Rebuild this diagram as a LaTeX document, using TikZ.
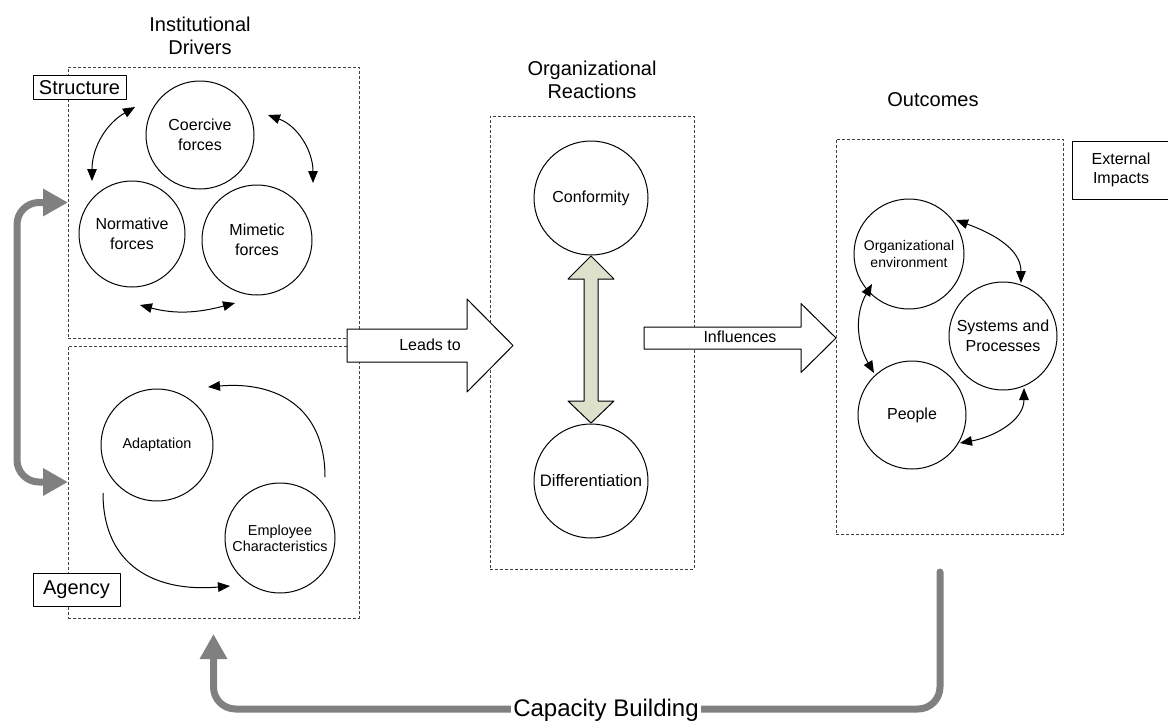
\documentclass[tikz,border=0pt]{standalone}
\usepackage{fontspec}
\setmainfont{Liberation Sans}
\usetikzlibrary{arrows.meta}
\definecolor{sage}{RGB}{221,225,204}
\definecolor{loopgray}{RGB}{128,128,128}

\begin{document}
\begin{tikzpicture}[x=0.5pt,y=0.5pt,line join=round,
  frame/.style={draw=black!75,line width=0.5pt,dash pattern=on 1.5pt off 1pt,inner sep=0pt,outer sep=0pt},
  tag/.style={draw,fill=white,line width=0.5pt,inner sep=0pt,font=\fontsize{10}{12}\selectfont},
  head/.style={align=center,font=\fontsize{10}{11.5}\selectfont},
  force/.style={circle,draw,line width=0.5pt,inner sep=0pt,align=center,font=\fontsize{8}{9.75}\selectfont},
  small/.style={font=\fontsize{7.2}{8}\selectfont},
  block/.style={draw,fill=white,line width=0.5pt},
  tip/.style={Triangle[length=6pt,width=4.8pt]},
  link/.style={line width=0.5pt,{Triangle[length=6pt,width=4.8pt]}-{Triangle[length=6pt,width=4.8pt]}},
  cycle/.style={line width=0.5pt,-{Triangle[length=6pt,width=4.8pt]}},
  feed/.style={draw=loopgray,line width=3.5pt,rounded corners=11pt}]
  \useasboundingbox (0,0) rectangle (1168,720);

  % dashed groups
  \node[frame,minimum width=145.5pt,minimum height=135.5pt] (structbox) at (213.5,517.5) {};
  \node[frame,minimum width=145.5pt,minimum height=136pt] (agencybox) at (213.5,238) {};
  \node[frame,minimum width=102pt,minimum height=226.5pt] (reactbox) at (592,377.5) {};
  \node[frame,minimum width=113.5pt,minimum height=197.5pt] (outbox) at (949.5,383.5) {};

  \node[head] (drivers) at (200,684.5) {Institutional\\Drivers};
  \node[head] (reactions) at (592,640) {Organizational\\Reactions};
  \node[head] (outcomes) at (933,620) {Outcomes};

  \node[tag,minimum width=46.5pt,minimum height=12pt] (structure) at (79.5,632.5) {Structure};
  \node[tag,minimum width=43.5pt,minimum height=16.5pt] (agency) at (76.5,130.5) {Agency};
  \node[tag,align=center,minimum width=49pt,minimum height=29pt,font=\fontsize{8}{9.5}\selectfont] (external) at (1121,550) {External\\Impacts};

  % circles
  \node[force,minimum size=54pt] (coercive) at (200,585) {Coercive\\forces};
  \node[force,minimum size=53pt] (normative) at (132,486) {Normative\\forces};
  \node[force,minimum size=55pt] (mimetic) at (257,480) {Mimetic\\forces};
  \node[force,small,minimum size=56pt] (adaptation) at (157,275) {Adaptation};
  \node[force,small,minimum size=55pt] (employee) at (280,182) {Employee\\Characteristics};
  \node[force,minimum size=57pt] (conformity) at (591,522) {Conformity};
  \node[force,minimum size=57pt,font=\fontsize{8.3}{10}\selectfont] (differentiation) at (591,239) {Differentiation};
  \node[force,minimum size=55pt,font=\fontsize{7}{8.5}\selectfont] (orgenv) at (909,466) {Organizational\\environment};
  \node[force,minimum size=54pt,font=\fontsize{8}{10}\selectfont] (systems) at (1003,384) {Systems and\\Processes};
  \node[force,minimum size=54pt] (people) at (912,305) {People};

  % thin loops between the circles
  \coordinate (cn1) at (92,539); \coordinate (cn2) at (135,613);
  \coordinate (cm1) at (268,605); \coordinate (cm2) at (313,537);
  \coordinate (nm1) at (140,415); \coordinate (nm2) at (235,417);
  \coordinate (os1) at (956,500); \coordinate (os2) at (1021,437);
  \coordinate (op1) at (872,436); \coordinate (op2) at (874,347);
  \coordinate (ps1) at (960,277); \coordinate (ps2) at (1024,332);
  \coordinate (ea1) at (325,243); \coordinate (ea2) at (208,333);
  \coordinate (ae1) at (103,227); \coordinate (ae2) at (230,134);
  \foreach \s/\t/\o/\i in {cn1/cn2/90/210,cm1/cm2/-20/90,nm1/nm2/-15/195,os1/os2/-20/90,op1/op2/240/120,ps1/ps2/10/-90}
    \draw[link] (\s) to[out=\o,in=\i] (\t);
  \draw[cycle] (ea1) to[out=90,in=5,looseness=1.2] (ea2);
  \draw[cycle] (ae1) to[out=-90,in=185,looseness=1.2] (ae2);

  % block arrows
  \draw[block] (347,391) -- (467,391) -- (467,421) -- (513,374.5) -- (467,328) -- (467,358) -- (347,358) -- cycle;
  \node[font=\fontsize{8}{9.5}\selectfont] (leads) at (430,375) {Leads to};
  \draw[block] (644,393) -- (801,393) -- (801,416.5) -- (836,382) -- (801,347.5) -- (801,371) -- (644,371) -- cycle;
  \node[font=\fontsize{8}{9.5}\selectfont] (influences) at (740,383) {Influences};
  \draw[block,fill=sage] (591,464) -- (614,441) -- (598,441) -- (598,319) -- (614,319) -- (591,297)
    -- (568,319) -- (584,319) -- (584,441) -- (568,441) -- cycle;

  % gray feedback arrows
  \draw[feed,{Triangle[length=12.5pt,width=13pt]}-{Triangle[length=12.5pt,width=13pt]}]
    (structbox.west) -- ++(-51,0) |- (agencybox.west);
  \coordinate (capstart) at (940,148); \coordinate (capbase) at (0,11);
  \coordinate (captip) at ([yshift=-8pt]agencybox.south);
  \draw[feed,line cap=round,-{Triangle[length=12.5pt,width=13pt]}] (capstart) |- (captip |- capbase) -- (captip);
  \node[fill=white,inner sep=1pt,anchor=base,font=\fontsize{12}{14}\selectfont] (capacity) at (606,3.5) {Capacity Building};
\end{tikzpicture}
\end{document}
